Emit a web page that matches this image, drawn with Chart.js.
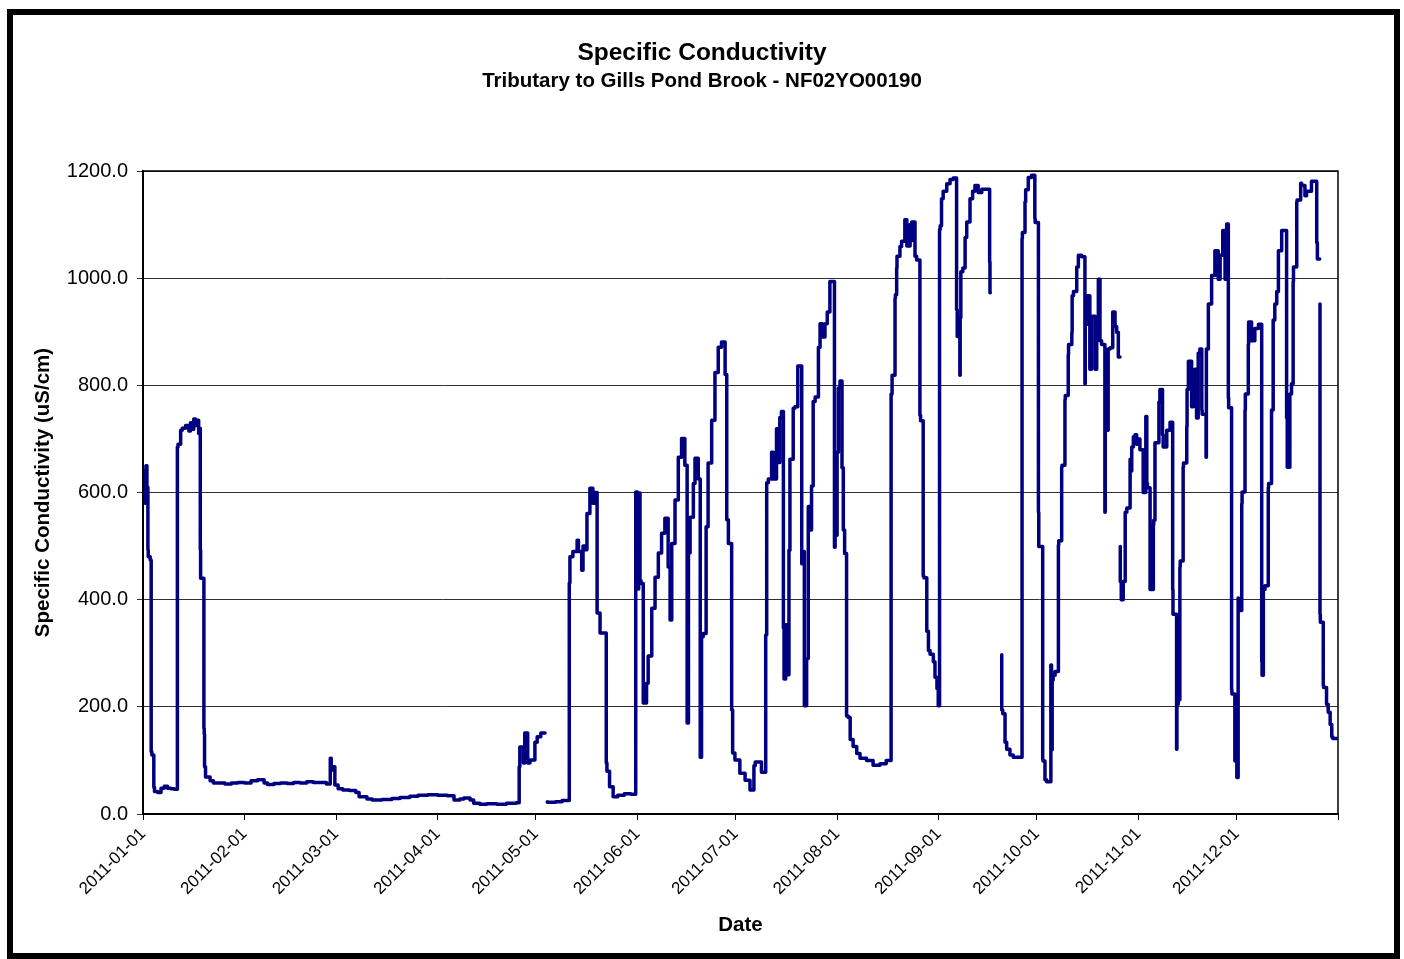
<!doctype html>
<html lang="en">
<head>
  <meta charset="UTF-8">
  <title>Specific Conductivity</title>
  <style>
    body { margin: 0; background: #fff; }
    #wrap { position: relative; width: 1404px; height: 959px; }
    #frame { position: absolute; left: 7px; top: 9px; width: 1393px; height: 950px;
             box-sizing: border-box; border: 6px solid #000; pointer-events: none; }
  </style>
</head>
<body>
<div id="wrap">
  <canvas id="cond-chart" width="1404" height="959"></canvas>
  <div id="frame"></div>
</div>

<script src="https://cdn.jsdelivr.net/npm/chart.js@4.4.1/dist/chart.umd.min.js"></script>
<script>
// day of year 2011 (0 = 2011-01-01); null = gap in record
var days = [
  0.3, 0.6, 0.9, 1.2, 1.5, 1.6, 2.2, 2.5, 2.7, 3.3,
  3.5, 4.5, 5.5, 6.5, 7.5, 8.5, 9.5, 10.5, 10.7, 11.5,
  12, 13, 14, 14.5, 15, 15.5, 16, 16.5, 17, 17.3,
  17.5, 17.6, 18.6, 18.7, 18.8, 19.1, 20.5, 21.5, 23, 25,
  27, 29, 31, 33, 35, 37, 38, 40, 42, 44,
  46, 48, 50, 52, 54, 56, 57.2, 57.5, 58, 58.6,
  59.6, 61, 63, 65, 66, 68.4, 70, 73, 76, 78.5,
  81.5, 84, 87, 90, 93, 95, 96.8, 98, 99.9, 101,
  102.9, 105, 108, 111, 114, 114.9, 115.1, 116.2, 116.6, 117.5,
  118.2, 119.7, 120.4, 121.5, 122.8, 123.2,
  // May - Sept
  123.5, 126, 128, 130.2, 130.4, 131.3, 132.6, 133, 134, 134.4,
  135, 135.6, 136.5, 137.4, 138, 138.7, 139.6, 141.5, 141.7, 142.5,
  143.6, 145, 147, 149, 150.5, 151, 151.4, 151.8, 152.1, 152.8,
  153.8, 154.3, 155.4, 156.4, 157.4, 158.4, 159.4, 160.4, 161, 161.5,
  162.5, 163.5, 164.5, 165.5, 166.2, 166.6, 167.1, 168.1, 168.6, 169.6,
  170.2, 170.6, 171.1, 172, 172.6, 173.7, 174.7, 175.7, 176.7, 177.8,
  178.3, 178.8, 179.8, 180.1, 180.8, 182.3, 183.9, 185.4, 186.6, 187,
  188.9, 190.2, 190.5, 191, 192, 192.5, 193.5, 194, 194.5, 195,
  195.6, 195.8, 196.3, 196.8, 197.3, 197.6, 198.6, 199.1, 200, 200.7,
  201.2, 201.4, 202, 202.7, 203.2, 203.7, 204.2, 204.7, 205.3, 206.3,
  206.8, 207.5, 208.3, 209, 209.8, 210.8, 211.2, 211.4, 212, 212.4,
  212.9, 213.5, 213.9, 214.3, 214.9, 215.4, 216, 216.9, 218, 219,
  221, 223, 225.1, 227, 228.5, 228.8, 229.7, 229.8, 230.2, 230.3,
  231.2, 231.7, 232.7, 233.3, 234.3, 234.5, 234.8, 235.2, 235.8, 236.3,
  237.3, 237.5, 238.3, 238.5, 239.4, 239.9, 240.4, 241.4, 241.9, 242.5,
  242.9, 243.3, 243.5, 243.9, 244.4, 245.5, 246.5, 247.5, 248.5, 248.7,
  249.5, 249.6, 249.8, 250.4, 251.1, 251.6, 252.6, 253.4, 254.1, 255.1,
  256.2, 257.7, 258.6, 258.7, 258.8, 260,
  // Sept - Dec
  262.3, 262.6, 263.3, 263.8, 264.8, 265.8, 266.3, 268.5, 268.6, 269.4,
  269.6, 270.4, 271.4, 272.4, 272.5, 273.5, 273.6, 274.8, 274.9, 275.5,
  276, 277.3, 277.5, 277.7, 278, 278.6, 279.6, 279.7, 280.6, 280.7,
  281.6, 281.7, 282.6, 282.7, 283.7, 283.8, 284.2, 285.2, 285.7, 286.7,
  287.7, 287.8, 288.4, 289.2, 289.7, 290.8, 291.3, 291.8, 292.3, 292.8,
  293.8, 293.9, 294.4, 294.8, 295.4, 296.2, 296.9, 297.4, 297.9, 298.4,
  298.45, 298.5, 298.8, 299.4, 300, 300.5, 301.5, 301.6, 302, 302.5,
  303, 303.5, 304, 304.5, 305.5, 306.3, 306.6, 306.8, 307.6, 307.8,
  308.6, 308.7, 309.1, 309.4, 310.3, 310.6, 311.4, 311.6, 312.7, 313.7,
  314.5, 314.6, 315.7, 315.8, 316.2, 316.7, 316.8, 317.7, 317.8, 318.8,
  318.9, 319.3, 320.3, 320.8, 321.3, 321.8, 322.3, 322.8, 323.4, 323.5,
  324.7, 324.8, 325.4, 326.4, 327.4, 328.4, 329, 329.8, 330.5, 331,
  331.5, 331.6, 332.5, 332.6, 333.5, 334.1, 334.5, 334.6, 335.6, 335.7,
  336.6, 336.7, 337.6, 337.7, 338.6, 339.6, 340.7, 341.7, 341.8, 342.2,
  342.7, 343.7, 343.8, 344.7, 345.2, 345.7, 346.3, 346.8, 347.8, 348.8,
  349.3, 349.5, 350.3, 350.8, 351.3, 351.4, 352.4, 352.5, 353.6, 353.9,
  354.9, 355.4, 356.9, 357.2, 358.5, 358.7, 359.4, 359.45, 359.5, 359.6,
  360.5, 360.6, 361.5, 362, 362.6, 363.1, 363.4, 365
];

// specific conductivity uS/cm, same order as days
var uScm = [
  600, 640, 580, 650, 610, 493, 480, 474, 116, 110,
  50, 42, 40, 48, 52, 48, 47, 46, 685, 690,
  716, 720, 725, 715, 730, 718, 737, 725, 735, 710,
  720, 493, 440, 160, 150, 88, 69, 62, 58, 58,
  56, 58, 59, 58, 62, 64, 58, 55, 57, 58,
  57, 59, 58, 60, 59, 59, 56, 104, 82, 88,
  54, 47, 45, 44, 40, 32, 28, 26, 27, 29,
  31, 33, 35, 36, 35, 34, 26, 28, 30, 26,
  20, 18, 19, 18, 20, 21, 88, 125, 95, 151,
  95, 101, 134, 144, 151, null,
  // May - Sept
  23, 22, 23, 25, 431, 480, 490, 511, 490, 455,
  500, 493, 561, 608, 580, 600, 375, 338, 95, 80,
  51, 32, 35, 38, 37, 601, 420, 599, 436, 430,
  207, 244, 295, 384, 442, 487, 524, 552, 461, 362,
  505, 586, 666, 701, 651, 170, 487, 554, 617, 664,
  625, 106, 331, 337, 536, 655, 735, 824, 871, 881,
  820, 549, 505, 194, 114, 101, 76, 63, 45, 90,
  97, 78, 334, 618, 625, 675, 625, 719, 656, 740,
  751, 347, 252, 353, 260, 492, 662, 757, 760, 836,
  836, 467, 490, 202, 290, 574, 530, 612, 770, 778,
  871, 915, 890, 915, 937, 994, 994, 498, 520, 675,
  795, 808, 646, 530, 486, 183, 180, 139, 126, 113,
  104, 100, 91, 94, 100, 784, 819, 962, 969, 1019,
  1041, 1059, 1069, 1109, 1060, 1100, 1070, 1105, 1105, 1041,
  1034, 744, 734, 444, 441, 341, 305, 298, 284, 255,
  234, 202, 1091, 1098, 1148, 1162, 1176, 1184, 1187, 941,
  891, 819, 926, 1012, 1019, 1076, 1105, 1148, 1162, 1173,
  1160, 1166, 1166, 1030, 973, null,
  // Sept - Dec
  297, 194, 187, 134, 121, 110, 106, 106, 1074, 1085,
  1142, 1165, 1188, 1192, 1112, 1104, 563, 499, 102, 99,
  64, 60, 278, 120, 250, 259, 266, 502, 510, 647,
  651, 773, 781, 857, 876, 899, 967, 975, 1021, 1043,
  1040, 803, 914, 967, 830, 929, 830, 920, 998, 883,
  876, 563, 754, 716, 868, 870, 937, 910, 899, 853,
  null, 499, 434, 400, 434, 563, 571, 662, 640, 685,
  704, 708, 690, 700, 680, 600, 742, 617, 609, 419,
  419, 540, 548, 693, 693, 769, 792, 708, 685, 716,
  731, 419, 373, 121, 205, 213, 461, 472, 647, 655,
  723, 792, 845, 760, 815, 830, 739, 860, 868, 754,
  746, 666, 868, 952, 1005, 1051, 998, 1043, 1089, 998,
  1101, 777, 758, 232, 224, 99, 68, 403, 380, 579,
  601, 754, 784, 876, 918, 883, 906, 914, 285, 259,
  419, 426, 609, 617, 754, 922, 952, 975, 1051, 1089,
  1089, 739, 647, 784, 803, 994, 1021, 1142, 1146, 1177,
  1173, 1154, 1162, 1181, 1181, 1066, 1036, null, 952, 373,
  358, 240, 236, 205, 190, 167, 144, 141
];

var monthStarts = [0, 31, 59, 90, 120, 151, 181, 212, 243, 273, 304, 334, 365];
var monthLabels = ['2011-01-01', '2011-02-01', '2011-03-01', '2011-04-01', '2011-05-01', '2011-06-01',
                   '2011-07-01', '2011-08-01', '2011-09-01', '2011-10-01', '2011-11-01', '2011-12-01', ''];

var FONT = "'Liberation Sans', Arial, sans-serif";

var points = days.map(function (d, i) { return {x: d, y: uScm[i]}; });

// thin border on top/right of plot area
var plotBorder = {
  id: 'plotBorder',
  afterDraw: function (chart) {
    var a = chart.chartArea, ctx = chart.ctx;
    ctx.save();
    ctx.strokeStyle = '#000';
    ctx.lineWidth = 1.5;
    ctx.strokeRect(a.left, a.top, a.right - a.left, a.bottom - a.top);
    ctx.restore();
  }
};

new Chart(document.getElementById('cond-chart'), {
  type: 'line',
  data: {
    datasets: [{
      label: 'Specific Conductivity',
      data: points,
      borderColor: '#000080',
      backgroundColor: '#000080',
      borderWidth: 3.5,
      pointRadius: 0,
      stepped: 'after',
      spanGaps: false,
      borderJoinStyle: 'round',
      borderCapStyle: 'round'
    }]
  },
  options: {
    responsive: false,
    animation: false,
    layout: { padding: 0 },
    plugins: {
      legend: { display: false },
      tooltip: { enabled: false },
      title: {
        display: true,
        text: 'Specific Conductivity',
        color: '#000',
        font: { family: FONT, size: 24.5, weight: 'bold' },
        padding: { top: 39, bottom: 1 }
      },
      subtitle: {
        display: true,
        text: 'Tributary to Gills Pond Brook - NF02YO00190',
        color: '#000',
        font: { family: FONT, size: 20.5, weight: 'bold' },
        padding: { top: 0, bottom: 77 }
      }
    },
    scales: {
      x: {
        type: 'linear',
        min: 0,
        max: 365,
        afterBuildTicks: function (scale) {
          scale.ticks = monthStarts.map(function (v) { return {value: v}; });
        },
        afterFit: function (scale) { scale.height = 145; },
        ticks: {
          autoSkip: false,
          maxRotation: 45,
          minRotation: 45,
          padding: 4,
          color: '#000',
          font: { family: FONT, size: 17 },
          callback: function (v, i) { return monthLabels[i]; }
        },
        grid: { display: true, drawOnChartArea: false, color: '#000', tickLength: 6 },
        border: { color: '#000', width: 2 },
        title: {
          display: true,
          text: 'Date',
          color: '#000',
          font: { family: FONT, size: 20.5, weight: 'bold' },
          padding: { top: 0, bottom: 21 }
        }
      },
      y: {
        min: 0,
        max: 1200,
        afterFit: function (scale) { scale.width = 143; },
        ticks: {
          stepSize: 200,
          padding: 9,
          color: '#000',
          font: { family: FONT, size: 20 },
          callback: function (v) { return v.toFixed(1); }
        },
        grid: { color: '#303030', lineWidth: 1, tickLength: 6 },
        border: { color: '#000', width: 2 },
        title: {
          display: true,
          text: 'Specific Conductivity (uS/cm)',
          color: '#000',
          font: { family: FONT, size: 20.5, weight: 'bold' },
          padding: { top: 31, bottom: 0 }
        }
      },
      // empty right-hand axis: keeps the plot clear of the right edge
      // while the titles stay centred on the whole canvas
      yRight: {
        type: 'linear',
        position: 'right',
        min: 0,
        max: 1,
        afterFit: function (scale) { scale.width = 66; },
        ticks: { display: false },
        grid: { display: false },
        border: { display: false }
      }
    }
  },
  plugins: [plotBorder]
});
</script>
</body>
</html>
